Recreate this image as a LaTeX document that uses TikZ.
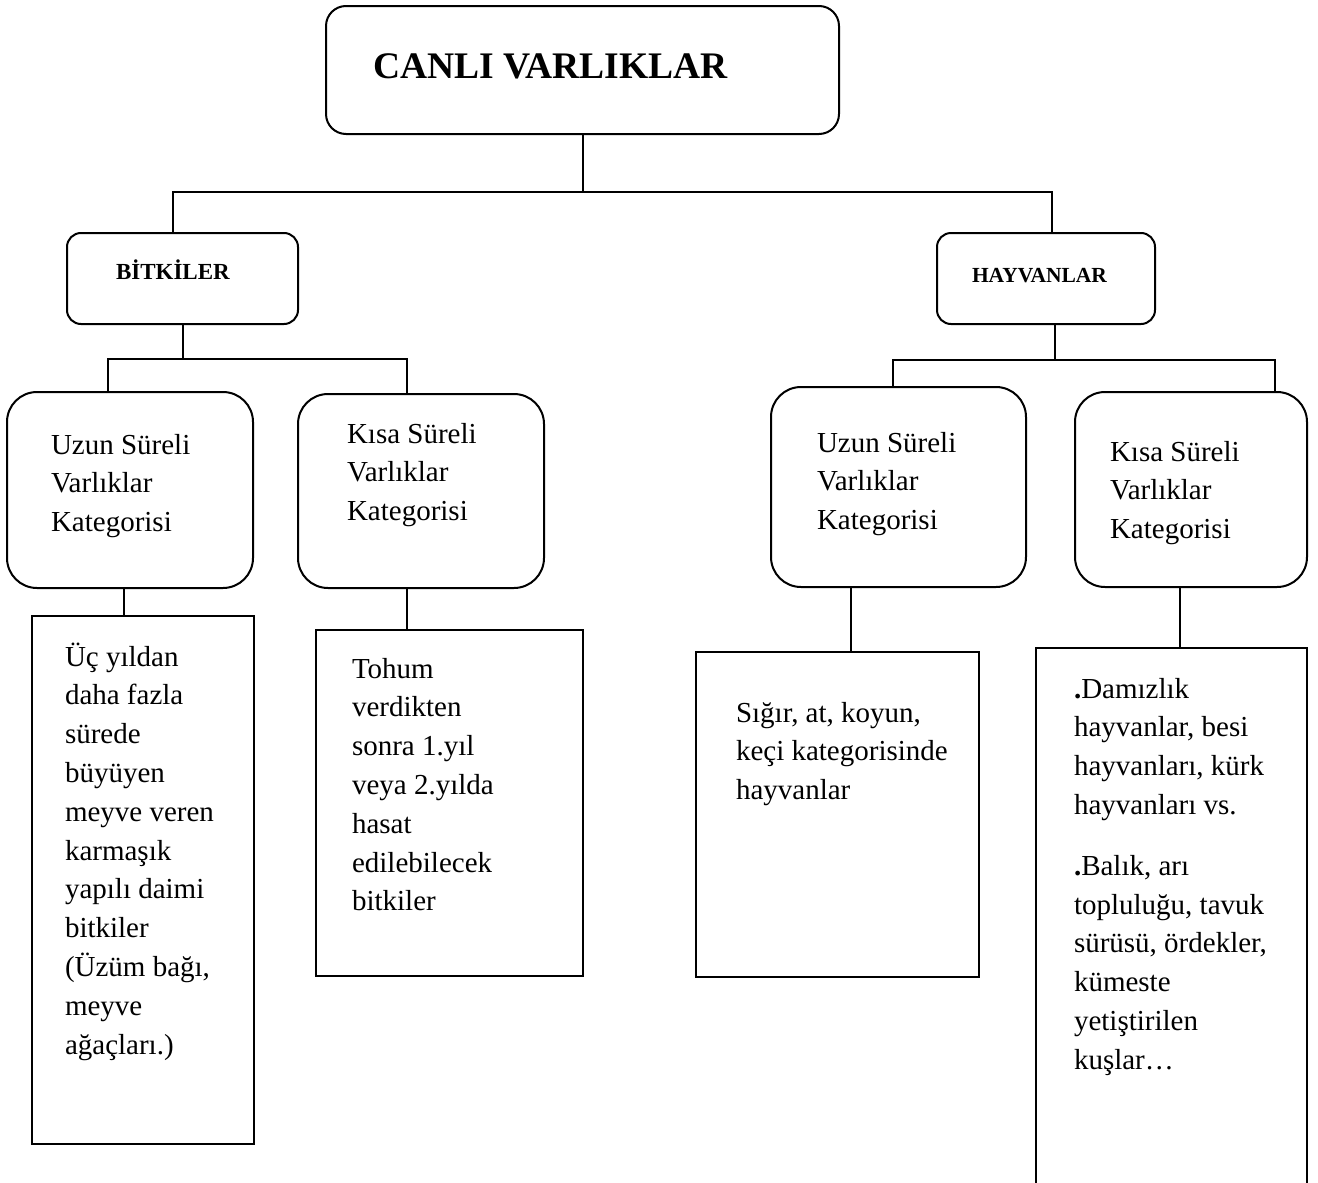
\documentclass[tikz,border=0pt]{standalone}
\usepackage{fontspec}
\setmainfont{Liberation Serif}
\usepackage{tikz}
\tikzstyle{rootbox} = [rectangle, draw, line width=2pt, rounded corners=20pt, inner sep=0pt, anchor=north west, align=left, font=\fontsize{37.5}{44}\selectfont\bfseries]
\tikzstyle{groupbox} = [rectangle, draw, line width=2pt, rounded corners=14pt, inner sep=0pt, anchor=north west, align=left]
\tikzstyle{catbox} = [rectangle, draw, line width=2pt, rounded corners=30pt, inner sep=0pt, anchor=north west, align=left, font=\fontsize{29}{38.8}\selectfont]
\tikzstyle{leafbox} = [rectangle, draw, line width=2pt, inner sep=0pt, anchor=north west, align=left, font=\fontsize{29}{38.8}\selectfont]
\tikzstyle{line} = [draw, line width=2pt]
% width, height above first baseline, depth below it, left indent of the text
\tikzset{boxsize/.style n args={4}{text width=#1, text height=#2, text depth=#3, execute at begin node={\leftskip=#4\relax\spaceskip=0pt\relax\xspaceskip=0pt\relax}}}

\begin{document}
\begin{tikzpicture}[x=1pt, y=-1pt]
			\useasboundingbox (0,0) rectangle (1318,1183);
			\node [rootbox, boxsize={513pt}{72pt}{56pt}{47pt}] (canli) at (325,5) {CANLI VARLIKLAR};
			\node [groupbox, font=\fontsize{23}{27}\selectfont\bfseries, boxsize={231pt}{46pt}{45pt}{49pt}] (bitki) at (66,232) {BİTKİLER};
			\node [groupbox, font=\fontsize{21.5}{25}\selectfont\bfseries, boxsize={218pt}{49pt}{42pt}{35pt}] (hayvan) at (936,232) {HAYVANLAR};
			\node [catbox, boxsize={246pt}{62pt}{134pt}{44pt}] (uzunbitki) at (6,391) {Uzun Süreli\\Varlıklar\\Kategorisi};
			\node [catbox, boxsize={246pt}{49pt}{145pt}{49pt}] (kisabitki) at (297,393) {Kısa Süreli\\Varlıklar\\Kategorisi};
			\node [catbox, boxsize={255pt}{65pt}{135pt}{46pt}] (uzunhayvan) at (770,386) {Uzun Süreli\\Varlıklar\\Kategorisi};
			\node [catbox, boxsize={232pt}{69pt}{126pt}{35pt}] (kisahayvan) at (1074,391) {Kısa Süreli\\Varlıklar\\Kategorisi};
			\node [leafbox, boxsize={222pt}{50pt}{478pt}{33pt}] (cokyillik) at (31,615)
			{Üç yıldan\\daha fazla\\sürede\\büyüyen\\meyve veren\\karmaşık\\yapılı daimi\\bitkiler\\(Üzüm bağı,\\meyve\\ağaçları.)};
			\node [leafbox, boxsize={267pt}{48pt}{298pt}{36pt}] (tekyillik) at (315,629)
			{Tohum\\verdikten\\sonra 1.yıl\\veya 2.yılda\\hasat\\edilebilecek\\bitkiler};
			\node [leafbox, boxsize={283pt}{70pt}{255pt}{40pt}] (buyukbas) at (695,651)
			{Sığır, at, koyun,\\keçi kategorisinde\\hayvanlar};
			\node [leafbox, boxsize={271pt}{50pt}{489pt}{38pt}] (kumes) at (1035,647)
			{{\bfseries .}Damızlık\\hayvanlar, besi\\hayvanları, kürk\\hayvanları vs.\\[22pt]{\bfseries .}Balık, arı\\topluluğu, tavuk\\sürüsü, ördekler,\\kümeste\\yetiştirilen\\kuşlar…};
			% tree lines
			\path [line] (canli.south) -- ++(0,57) coordinate (kokbus);
			\path [line] ([xshift=-9.5pt]bitki.north) |- (kokbus) -| ([xshift=5.5pt]hayvan.north);
			\path [line] (bitki.south) -- ++(0,34) coordinate (bitkibus);
			\path [line] ([xshift=-22pt]uzunbitki.north) |- (bitkibus) -| ([xshift=-14pt]kisabitki.north);
			\path [line] ([xshift=8.5pt]hayvan.south) -- ++(0,35) coordinate (hayvanbus);
			\path [line] ([xshift=-5.5pt]uzunhayvan.north) |- (hayvanbus) -| ([xshift=84pt]kisahayvan.north);
			\path [line] ([xshift=-6pt]uzunbitki.south) -- ([xshift=-6pt]uzunbitki.south |- cokyillik.north);
			\path [line] ([xshift=-14pt]kisabitki.south) -- ([xshift=-14pt]kisabitki.south |- tekyillik.north);
			\path [line] ([xshift=-47.5pt]uzunhayvan.south) -- ([xshift=-47.5pt]uzunhayvan.south |- buyukbas.north);
			\path [line] ([xshift=-11pt]kisahayvan.south) -- ([xshift=-11pt]kisahayvan.south |- kumes.north);
		\end{tikzpicture}
\end{document}
